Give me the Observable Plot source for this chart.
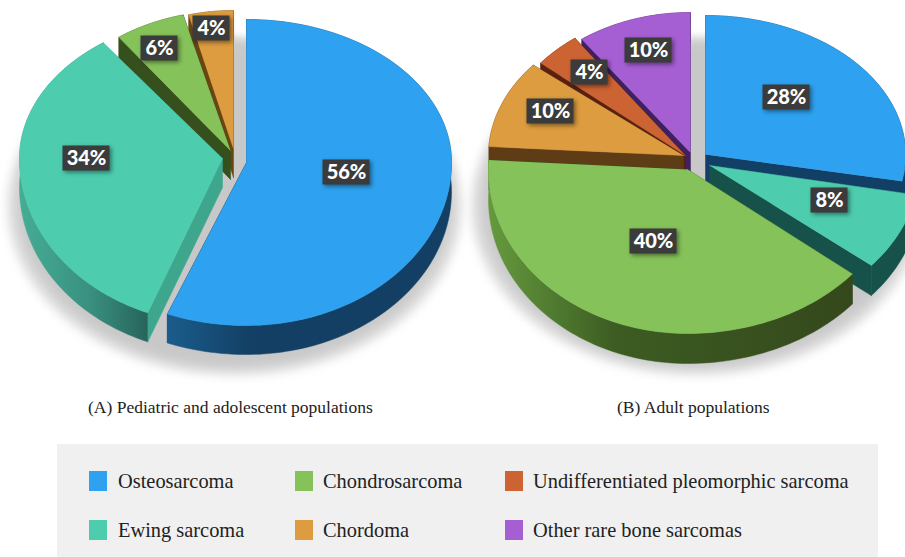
<!DOCTYPE html>
<html>
<head>
<meta charset="utf-8">
<script src="https://cdn.jsdelivr.net/npm/d3@7"></script>
<script src="https://cdn.jsdelivr.net/npm/@observablehq/plot@0.6"></script>
<style>
html,body{margin:0;padding:0;background:#fff;}
#root{position:relative;width:905px;height:557px;overflow:hidden;font-family:"Liberation Serif",serif;color:#222;}
#chart svg{display:block;}
.cap{position:absolute;top:397px;font-size:17.5px;line-height:20px;white-space:nowrap;}
#legend{position:absolute;left:57px;top:444px;width:821px;height:113px;background:#f0f0f0;}
.sw{position:absolute;width:18px;height:20px;}
.lb{position:absolute;font-size:20.4px;line-height:24px;white-space:nowrap;}
</style>
</head>
<body>
<div id="root">
<div id="chart"></div>
<div class="cap" style="left:88px">(A) Pediatric and adolescent populations</div>
<div class="cap" style="left:617px">(B) Adult populations</div>
<div id="legend"></div>
</div>
<script>
// ---- data ----
const categories = ["Osteosarcoma","Chondrosarcoma","Undifferentiated pleomorphic sarcoma","Ewing sarcoma","Chordoma","Other rare bone sarcomas"];
const pedCategories = ["Osteosarcoma","Ewing sarcoma","Chondrosarcoma","Chordoma"];
const pedValues = [56,34,6,4];
const adultCategories = ["Osteosarcoma","Ewing sarcoma","Chondrosarcoma","Chordoma","Undifferentiated pleomorphic sarcoma","Other rare bone sarcomas"];
const adultValues = [28,8,40,10,4,10];

// ---- styles ----
const topColor = {"Osteosarcoma":"#2ea2f0","Ewing sarcoma":"#4dcdae","Chondrosarcoma":"#86c25a","Chordoma":"#dc9c3f","Undifferentiated pleomorphic sarcoma":"#cc6332","Other rare bone sarcomas":"#a55fd3"};

// ---- layout of each exploded slice: apex x, apex y, radius right, left, top, bottom, depth ----
const pedLayout = {
  "Osteosarcoma":[246,162,205,215,143,163,29],
  "Ewing sarcoma":[222,158,205,203,143,166,29],
  "Chondrosarcoma":[230,150,190,190,140,150,29],
  "Chordoma":[233,148,180,180,138,150,29]
};
const adultLayout = {
  "Osteosarcoma":[705,154,200,200,139,143,30],
  "Ewing sarcoma":[709,165,210,210,150,157,30],
  "Chondrosarcoma":[687,169,214,199,150,164,30],
  "Chordoma":[683,155,195,195,142,150,30],
  "Undifferentiated pleomorphic sarcoma":[685,155,188,188,145,150,30],
  "Other rare bone sarcomas":[690,152,185,185,140,150,30]
};
const pedDraw = ["Chordoma","Chondrosarcoma","Ewing sarcoma","Osteosarcoma"];
const adultDraw = ["Other rare bone sarcomas","Undifferentiated pleomorphic sarcoma","Chordoma","Osteosarcoma","Ewing sarcoma","Chondrosarcoma"];

const pedWall = {"Osteosarcoma":["url(#gBlue)","#113f66"],"Ewing sarcoma":["url(#gTeal)","#3da68d"],"Chondrosarcoma":["#35501c","#35501c"],"Chordoma":["#6b4510","#6b4510"]};
const adultWall = {"Osteosarcoma":["#113f66","#113f66"],"Ewing sarcoma":["#17524a","#17524a"],"Chondrosarcoma":["url(#gGreen)","#35481c"],"Chordoma":["#5e3d16","#5e3d16"],"Undifferentiated pleomorphic sarcoma":["#5a2010","#5a2010"],"Other rare bone sarcomas":["#3f2060","#3f2060"]};

const pedLabels = [[346,172],[86,158],[159,48],[211,28]];
const adultLabels = [[786,97],[829,200],[653,241],[550,111],[589,72],[648,50]];

function defs(){
  const d = d3.create("svg:defs");
  const grads = {gBlue:[["0%","#1b5c8c"],["30%","#123f63"],["100%","#123f63"]],
                 gTeal:[["0%","#45ad94"],["55%","#399080"],["100%","#27645a"]],
                 gGreen:[["0%","#659a3e"],["35%","#3c5c22"],["100%","#35481c"]]};
  for (const [id,st] of Object.entries(grads)){
    const g = d.append("linearGradient").attr("id",id).attr("x1","0").attr("x2","1").attr("y1","0").attr("y2","0");
    st.forEach(([o,c])=>g.append("stop").attr("offset",o).attr("stop-color",c));
  }
  return d.node();
}

function pt(L,deg,dy=0){
  const a = deg*Math.PI/180, s = Math.sin(a), c = Math.cos(a);
  return {x:L[0]+(s>=0?L[2]:L[3])*s, y:L[1]-(c>=0?L[4]:L[5])*c+dy};
}
function arc(L,a0,a1,dy=0){
  const n = Math.max(2,Math.ceil((a1-a0)/1.5));
  return d3.range(n+1).map(i=>pt(L,a0+(a1-a0)*i/n,dy));
}
const poly = (points,fill)=>Plot.line(points,{x:"x",y:"y",fill,stroke:fill,strokeWidth:0.5,curve:"linear"});

function pieMarks(cats,vals,layout,wall,order){
  const total = d3.sum(vals); const range = {}; let cum = 0;
  cats.forEach((c,i)=>{range[c]=[cum/total*360,(cum+vals[i])/total*360];cum+=vals[i];});
  const marks = [];
  for (const c of order){
    const L = layout[c], [a0,a1] = range[c], D = L[6], apex = {x:L[0],y:L[1]}, apexD = {x:L[0],y:L[1]+D};
    const A = arc(L,a0,a1), B = arc(L,a0,a1,D);
    marks.push(poly([apex,A[0],B[0],apexD],wall[c][1]));
    marks.push(poly([apex,A[A.length-1],B[B.length-1],apexD],wall[c][1]));
    marks.push(poly([...A,...B.slice().reverse()],wall[c][0]));
    marks.push(poly([apex,...A],topColor[c]));
  }
  return marks;
}
function ellipsePts(cx,cy,rx,ry){
  return d3.range(0,361,3).map(t=>({x:cx+rx*Math.sin(t*Math.PI/180),y:cy-ry*Math.cos(t*Math.PI/180)}));
}
function labelMarks(vals,pos){
  const rows = vals.map((v,i)=>({t:v+"%",x:pos[i][0],y:pos[i][1],w:v>=10?23.5:18.5}));
  return [
    Plot.rect(rows,{x1:d=>d.x-d.w,x2:d=>d.x+d.w,y1:d=>d.y-12.5,y2:d=>d.y+12.5,fill:"#3b3b3b",imageFilter:"drop-shadow(2px 2px 2px rgba(0,0,0,0.45))"}),
    Plot.text(rows,{x:"x",y:"y",text:"t",fill:"#fff",fontFamily:"Lato",fontWeight:900,fontSize:20})
  ];
}
const shadow = (cx,cy,rx,ry)=>[
  Plot.line(ellipsePts(cx,cy,rx,ry),{x:"x",y:"y",fill:"#e8e8e8",stroke:"none",imageFilter:"blur(5px)"}),
  Plot.line(ellipsePts(cx,cy-1,rx-6,ry-6),{x:"x",y:"y",fill:"#d4d4d4",stroke:"none",imageFilter:"blur(5px)"}),
  Plot.line(ellipsePts(cx,cy-3,rx-14,ry-8),{x:"x",y:"y",fill:"#c8c8c8",stroke:"none",imageFilter:"blur(5px)"})
];

const plot = Plot.plot({
  width:905,height:392,margin:0,
  x:{domain:[0,905],range:[0,905],axis:null},
  y:{domain:[0,392],range:[0,392],axis:null},
  marks:[
    defs,
    ...shadow(234,206,228,170),
    ...shadow(696,206,226,170),
    ...pieMarks(pedCategories,pedValues,pedLayout,pedWall,pedDraw),
    ...pieMarks(adultCategories,adultValues,adultLayout,adultWall,adultDraw),
    ...labelMarks(pedValues,pedLabels),
    ...labelMarks(adultValues,adultLabels)
  ]
});
document.getElementById("chart").append(plot);

// ---- legend ----
const legendCols = [32,238,448], legendTextCols = [61,266,476], legendRows = [27,76];
const legend = d3.select("#legend");
categories.forEach((c,i)=>{
  const col = i%3, row = Math.floor(i/3);
  legend.append("div").attr("class","sw").style("left",legendCols[col]+"px").style("top",(legendRows[row])+"px").style("background",topColor[c]);
  legend.append("div").attr("class","lb").style("left",legendTextCols[col]+"px").style("top",(legendRows[row]-2)+"px").text(c);
});
</script>
</body>
</html>
